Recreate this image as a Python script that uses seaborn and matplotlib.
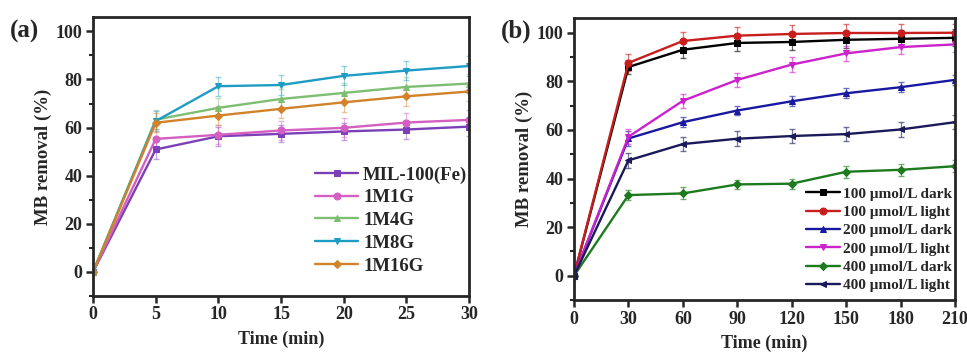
import matplotlib
matplotlib.use("Agg")
import matplotlib.pyplot as plt
import seaborn as sns
import pandas as pd
from matplotlib.ticker import MultipleLocator

sns.set_style("ticks")
plt.rcParams['font.family'] = ['Liberation Serif', 'DejaVu Serif']
plt.rcParams['font.weight'] = 'bold'
plt.rcParams['mathtext.default'] = 'regular'

# ---- Panel (a) data ----
time_a = [0, 5, 10, 15, 20, 25, 30]
names_a = ["MIL-100(Fe)", "1M1G", "1M4G", "1M8G", "1M16G"]
mil100 = [0, 50.9, 56.4, 57.4, 58.4, 59.2, 60.4]
m1g = [0, 55.3, 57.0, 58.8, 59.9, 62.1, 63.2]
m4g = [0, 63.3, 68.2, 71.9, 74.4, 76.9, 78.3]
m8g = [0, 62.7, 77.2, 77.7, 81.5, 83.7, 85.6]
m16g = [0, 62.0, 65.0, 67.8, 70.5, 73.0, 75.0]
err_mil100 = [0, 4.0, 4.0, 3.5, 3.5, 4.0, 4.0]
err_m1g = [0, 4.0, 4.0, 4.0, 4.0, 4.0, 4.0]
err_m4g = [0, 4.0, 4.0, 4.0, 4.0, 4.0, 4.0]
err_m8g = [0, 4.0, 4.0, 4.0, 4.0, 4.0, 4.0]
err_m16g = [0, 4.0, 4.0, 4.0, 4.0, 4.0, 4.0]

# ---- Panel (b) data ----
time_b = [0, 30, 60, 90, 120, 150, 180, 210]
names_b = ["100 μmol/L dark", "100 μmol/L light", "200 μmol/L dark",
           "200 μmol/L light", "400 μmol/L dark", "400 μmol/L light"]
d100 = [0, 85.9, 93.0, 95.8, 96.2, 97.1, 97.5, 97.9]
l100 = [0, 87.6, 96.6, 98.8, 99.5, 99.9, 99.9, 100.0]
d200 = [0, 56.5, 63.2, 68.0, 71.8, 75.1, 77.6, 80.6]
l200 = [0, 57.2, 72.0, 80.6, 86.9, 91.5, 94.1, 95.2]
d400 = [0, 33.2, 33.9, 37.6, 37.9, 42.8, 43.6, 45.1]
l400 = [0, 47.5, 54.2, 56.4, 57.5, 58.3, 60.2, 63.2]
err_d100 = [0, 3.0, 3.5, 3.5, 3.5, 3.5, 3.5, 3.5]
err_l100 = [0, 3.5, 3.5, 3.5, 3.5, 3.5, 3.5, 3.5]
err_d200 = [0, 3.0, 2.0, 2.0, 2.0, 2.0, 2.0, 2.0]
err_l200 = [0, 3.0, 3.0, 3.0, 3.0, 3.0, 3.0, 3.0]
err_d400 = [0, 2.0, 2.5, 2.0, 2.0, 2.5, 2.5, 2.5]
err_l400 = [0, 3.0, 3.0, 3.0, 3.0, 3.0, 3.0, 3.0]

fig = plt.figure(figsize=(9.67, 3.56), dpi=100)
ax1 = fig.add_axes([0.0962, 0.1685, 0.389, 0.784])
ax2 = fig.add_axes([0.5936, 0.157, 0.394, 0.792])

series_a = [mil100, m1g, m4g, m8g, m16g]
errs_a = [err_mil100, err_m1g, err_m4g, err_m8g, err_m16g]
colors_a = ["#7B3FB8", "#D45FC0", "#7DBE72", "#1F9CC4", "#D2832A"]
markers_a = ["s", "o", "^", "v", "D"]

for name, vals, err, c, m in zip(names_a, series_a, errs_a, colors_a, markers_a):
    df = pd.DataFrame({"t": time_a, "v": vals})
    ax1.errorbar(time_a, vals, yerr=err, fmt="none", ecolor=c, alpha=0.45,
                 elinewidth=0.9, capsize=2.5, zorder=1)
    sns.lineplot(data=df, x="t", y="v", ax=ax1, color=c, marker=m,
                 markersize=5 if m != "D" else 4.5, markeredgecolor=c,
                 linewidth=1.7, label=name, zorder=2)

series_b = [d100, l100, d200, l200, d400, l400]
errs_b = [err_d100, err_l100, err_d200, err_l200, err_d400, err_l400]
colors_b = ["#000000", "#C81E1E", "#1818A0", "#CC22CC", "#1E7A1E", "#1A1A5A"]
markers_b = ["s", "o", "^", "v", "D", "<"]

for name, vals, err, c, m in zip(names_b, series_b, errs_b, colors_b, markers_b):
    df = pd.DataFrame({"t": time_b, "v": vals})
    ax2.errorbar(time_b, vals, yerr=err, fmt="none", ecolor=c, alpha=0.6,
                 elinewidth=0.9, capsize=2.5, zorder=1)
    sns.lineplot(data=df, x="t", y="v", ax=ax2, color=c, marker=m,
                 markersize=5 if m != "D" else 4.5, markeredgecolor=c,
                 linewidth=1.7, label=name, zorder=2)

ax1.set_xlim(0, 30)
ax1.set_ylim(-10, 106)
ax1.xaxis.set_major_locator(MultipleLocator(5))
ax2.set_xlim(0, 210)
ax2.set_ylim(-10, 106)
ax2.xaxis.set_major_locator(MultipleLocator(30))

for ax in (ax1, ax2):
    for sp in ax.spines.values():
        sp.set_visible(True)
        sp.set_linewidth(2.0)
    ax.yaxis.set_major_locator(MultipleLocator(20))
    ax.yaxis.set_minor_locator(MultipleLocator(10))
    ax.tick_params(axis="both", which="major", direction="out", length=5,
                   width=1.8, labelsize=13, pad=2.5)
    ax.tick_params(axis="y", which="minor", direction="out", length=3, width=1.5)
    ax.set_ylabel("MB removal (%)", fontsize=13.5, fontweight="bold", labelpad=3)
    ax.set_xlabel("Time (min)", fontsize=13, fontweight="bold", labelpad=5)
    for lab in ax.get_xticklabels() + ax.get_yticklabels():
        lab.set_fontweight("bold")

ax1.legend(loc="lower right", bbox_to_anchor=(1.03, 0.03), frameon=False,
           prop={"weight": "bold", "size": 13.5}, handlelength=2.3,
           handletextpad=0.25, labelspacing=0.3, borderaxespad=0.3)
ax2.legend(loc="lower right", bbox_to_anchor=(1.02, -0.01), frameon=False,
           prop={"weight": "bold", "size": 11}, handlelength=2.2,
           handletextpad=0.2, labelspacing=0.3, borderaxespad=0.3)

fig.text(0.010, 0.895, "(a)", fontsize=18, fontweight="bold")
fig.text(0.518, 0.895, "(b)", fontsize=18, fontweight="bold")

fig.savefig("out.png", dpi=100)
